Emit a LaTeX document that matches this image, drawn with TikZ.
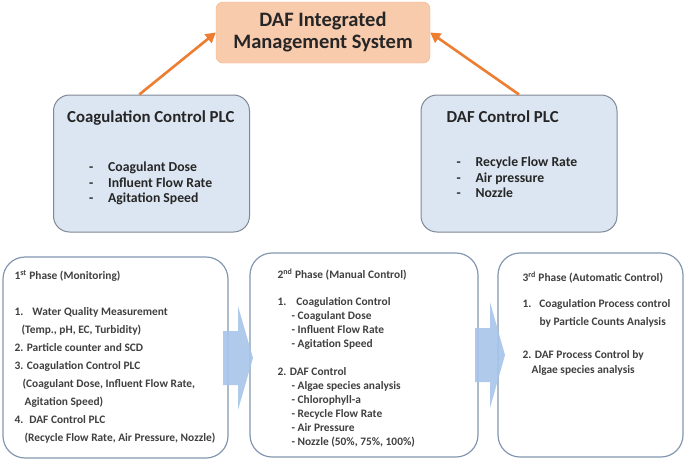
\documentclass[tikz,border=0pt]{standalone}
\usepackage{fontspec}
\setmainfont{Carlito}
\usetikzlibrary{arrows.meta,positioning,calc}
\definecolor{mgmt}{HTML}{F8CBAD}
\definecolor{mgmtline}{HTML}{F4B183}
\definecolor{plc}{HTML}{DCE6F2}
\definecolor{plcline}{HTML}{7F8794}
\definecolor{phaseline}{HTML}{8497B0}
\definecolor{linkorange}{HTML}{ED7D31}
\definecolor{flow}{HTML}{A7C4EA}
\definecolor{ink}{HTML}{262626}
\definecolor{phaseink}{HTML}{404040}
\newcommand{\plcitem}[1]{\makebox[19pt][l]{-}#1}

\begin{document}
\begin{tikzpicture}[x=1pt,y=-1pt,
  mgmtbox/.style={draw=mgmtline,fill=mgmt,rounded corners=7pt,minimum width=214pt,minimum height=61pt,align=center,font=\fontsize{20.5}{22}\selectfont\bfseries,text=ink},
  plcbox/.style={draw=plcline,fill=plc,line width=1pt,rounded corners=16pt,minimum width=196pt,minimum height=137pt},
  phasebox/.style={draw=phaseline,fill=white,line width=1.2pt,rounded corners=22pt,minimum height=204pt},
  plctitle/.style={anchor=base west,inner sep=0pt,font=\fontsize{16.8}{19}\selectfont\bfseries,text=ink},
  plclist/.style={anchor=north west,inner sep=0pt,align=left,font=\fontsize{13.7}{15.8}\selectfont\bfseries,text=ink},
  phasetext/.style={anchor=north west,inner sep=0pt,align=left,text=phaseink},
  uplink/.style={linkorange,line width=2.6pt,-{Triangle[length=10pt,width=11pt]}},
  flowarrow/.style={fill=flow,opacity=0.9}
]
\useasboundingbox (0,0) rectangle (691,461);

% management system
\node[mgmtbox] (mgmt) at (323,32.5) {DAF Integrated\\Management System};

% PLC boxes
\node[plcbox] (coag) at (151.5,163.5) {};
\node[plcbox] (dafplc) at (519,163.5) {};
\node[plctitle] (coagtitle) at ($(coag.north west)+(14,27.5)$) {Coagulation Control PLC};
\node[plclist] (coaglist) at ($(coag.north west)+(36,67)$) {\plcitem{Coagulant Dose}\\\plcitem{Influent Flow Rate}\\\plcitem{Agitation Speed}};
\node[plctitle] (daftitle) at ($(dafplc.north west)+(26,27.5)$) {DAF Control PLC};
\node[plclist] (daflist) at ($(dafplc.north west)+(36,62)$) {\plcitem{Recycle Flow Rate}\\\plcitem{Air pressure}\\\plcitem{Nozzle}};

\draw[uplink] (coag.100) -- (mgmt.west);
\draw[uplink] (dafplc.north) -- (mgmt.east);

% phases
\node[phasebox,minimum width=225pt,minimum height=201pt] (ph1) at (115.5,357.5) {};
\node[phasebox,minimum width=228pt] (ph2) at (364,355) {};
\node[phasebox,minimum width=185pt] (ph3) at (590.5,355) {};

\fill[flowarrow] (223,331) -- (238,331) -- (238,306) -- (253,358) -- (238,410) -- (238,385) -- (223,385) -- cycle;
\fill[flowarrow] (475,328) -- (490,328) -- (490,302) -- (505,355) -- (490,408) -- (490,382) -- (475,382) -- cycle;

\node[phasetext,font=\fontsize{11.4}{18}\selectfont\bfseries] (ph1text) at ($(ph1.north west)+(12,14)$) {1\textsuperscript{st} Phase (Monitoring)\\[18pt]
1.\hspace*{9pt}Water Quality Measurement\\
\hspace*{7pt}(Temp., pH, EC, Turbidity)\\
2. Particle counter and SCD\\
3. Coagulation Control PLC\\
\hspace*{8pt}(Coagulant Dose, Influent Flow Rate,\\
\hspace*{10pt}Agitation Speed)\\
4.\hspace*{6pt}DAF Control PLC\\
\hspace*{10pt}(Recycle Flow Rate, Air Pressure, Nozzle)};

\node[phasetext,font=\fontsize{11.4}{14}\selectfont\bfseries] (ph2text) at ($(ph2.north west)+(28,16)$) {2\textsuperscript{nd} Phase (Manual Control)\\[13pt]
1.\hspace*{10pt}Coagulation Control\\
\hspace*{14pt}- Coagulant Dose\\
\hspace*{14pt}- Influent Flow Rate\\
\hspace*{14pt}- Agitation Speed\\[14pt]
2. DAF Control\\
\hspace*{14pt}- Algae species analysis\\
\hspace*{14pt}- Chlorophyll-a\\
\hspace*{14pt}- Recycle Flow Rate\\
\hspace*{14pt}- Air Pressure\\
\hspace*{14pt}- Nozzle (50\%, 75\%, 100\%)};

\node[phasetext,font=\fontsize{11.4}{15}\selectfont\bfseries] (ph3text) at ($(ph3.north west)+(25,19)$) {3\textsuperscript{rd} Phase (Automatic Control)\\[11.7pt]
1.\hspace*{8pt}Coagulation Process control\\[2.3pt]
\hspace*{17pt}by Particle Counts Analysis\\[18.3pt]
2. DAF Process Control by\\
\hspace*{9pt}Algae species analysis};
\end{tikzpicture}
\end{document}
